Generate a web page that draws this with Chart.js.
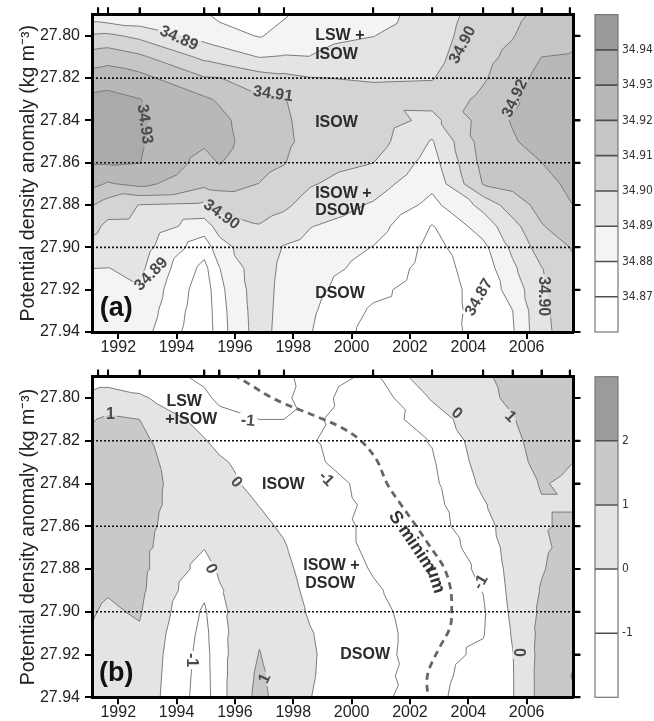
<!DOCTYPE html>
<html>
<head>
<meta charset="utf-8">
<script src="https://cdn.jsdelivr.net/npm/chart.js@4.4.1/dist/chart.umd.min.js"></script>
<style>
  html, body { margin: 0; padding: 0; background: #fff; }
  canvas { display: block; }
</style>
</head>
<body>
<canvas id="panelA" width="654" height="360"></canvas>
<canvas id="panelB" width="654" height="361"></canvas>
<script>
// grid columns (cruise dates, plus the plot edges) and density rows
const years = [1991.1, 1991.65, 1992.73, 1994.95, 1995.47, 1996.84, 1997.68, 1998.58, 2000.74, 2002.76, 2004.51, 2005.52, 2006.51, 2007.6];
const densities = [27.79, 27.80, 27.81, 27.82, 27.83, 27.84, 27.85, 27.86, 27.87, 27.88, 27.89, 27.90, 27.91, 27.92, 27.93, 27.94];
const cruiseDates = [1991.31, 1991.65, 1992.73, 1994.95, 1995.47, 1996.84, 1997.68, 2000.74, 2002.76, 2004.51, 2005.52, 2006.51, 2007.48];
const yearTicks = [1992, 1994, 1996, 1998, 2000, 2002, 2004, 2006];
const densityTicks = [27.80, 27.82, 27.84, 27.86, 27.88, 27.90, 27.92, 27.94];
const dividers = [27.82, 27.86, 27.90];

// (a) salinity, one array per column, top (27.79) to bottom (27.94)
const salinityLevels = [34.87, 34.88, 34.89, 34.90, 34.91, 34.92, 34.93, 34.94];
const salinity = [
  [34.884, 34.9013, 34.9144, 34.9252, 34.932, 34.935, 34.934, 34.931, 34.9228, 34.9105, 34.9032, 34.8964, 34.89, 34.886, 34.885, 34.885],
  [34.882, 34.902, 34.9161, 34.9258, 34.933, 34.936, 34.935, 34.931, 34.919, 34.9055, 34.8975, 34.8937, 34.8898, 34.885, 34.884, 34.884],
  [34.881, 34.8975, 34.9119, 34.9232, 34.9302, 34.9312, 34.9312, 34.9302, 34.9228, 34.8997, 34.8972, 34.8946, 34.8921, 34.8895, 34.887, 34.8845],
  [34.8812, 34.8866, 34.8976, 34.9107, 34.9215, 34.924, 34.9215, 34.9168, 34.9124, 34.8979, 34.8853, 34.8741, 34.867, 34.864, 34.863, 34.862],
  [34.8775, 34.8845, 34.8952, 34.9103, 34.9188, 34.9225, 34.9235, 34.9205, 34.9132, 34.9035, 34.894, 34.8861, 34.8797, 34.8775, 34.8765, 34.876],
  [34.875, 34.8793, 34.8897, 34.9043, 34.9115, 34.914, 34.9145, 34.913, 34.9098, 34.9044, 34.8995, 34.8975, 34.8965, 34.896, 34.8955, 34.895],
  [34.879, 34.8833, 34.8907, 34.9026, 34.9105, 34.9115, 34.912, 34.9105, 34.9061, 34.9018, 34.8958, 34.8893, 34.887, 34.886, 34.8855, 34.885],
  [34.8855, 34.8872, 34.8902, 34.9004, 34.904, 34.9065, 34.907, 34.9045, 34.9008, 34.8962, 34.8904, 34.8865, 34.8845, 34.883, 34.8815, 34.8805],
  [34.8862, 34.8898, 34.8945, 34.8991, 34.9035, 34.906, 34.9045, 34.9001, 34.8945, 34.889, 34.8843, 34.8797, 34.8765, 34.8725, 34.8685, 34.866],
  [34.8945, 34.8955, 34.897, 34.8995, 34.904, 34.8968, 34.8892, 34.8859, 34.8823, 34.8772, 34.8695, 34.867, 34.866, 34.865, 34.8645, 34.864],
  [34.9045, 34.906, 34.9075, 34.909, 34.912, 34.914, 34.9145, 34.913, 34.9105, 34.8929, 34.8845, 34.8775, 34.8745, 34.8735, 34.8735, 34.874],
  [34.9075, 34.9095, 34.9122, 34.9151, 34.918, 34.9208, 34.9189, 34.9158, 34.9126, 34.9053, 34.8965, 34.8922, 34.8881, 34.884, 34.8799, 34.879],
  [34.9125, 34.9155, 34.92, 34.9235, 34.926, 34.9265, 34.9245, 34.9199, 34.9165, 34.913, 34.9094, 34.9044, 34.8996, 34.8985, 34.898, 34.8975],
  [34.9165, 34.918, 34.9208, 34.924, 34.9265, 34.928, 34.9272, 34.925, 34.9225, 34.9201, 34.9154, 34.9107, 34.9085, 34.907, 34.906, 34.905]
];
const salinityColors = ['#ffffff', '#ffffff', '#f4f4f4', '#e4e4e4', '#d4d4d4', '#c6c6c6', '#b8b8b8', '#aaaaaa', '#9a9a9a'];

// (b) anomaly, same grid
const anomalyLevels = [-1, 0, 1, 2];
const anomaly = [
  [-0.45, 0.24, 0.95, 1.25, 1.4, 1.45, 1.45, 1.4, 1.35, 1.25, 1.15, 1.05, 0.95, 0.8, 0.7, 0.65],
  [-0.45, 0.45, 1.15, 1.35, 1.45, 1.5, 1.5, 1.45, 1.35, 1.2, 1.05, 0.9, 0.8, 0.7, 0.65, 0.6],
  [-0.55, 0.15, 1.0, 1.2, 1.3, 1.35, 1.35, 1.3, 1.25, 1.25, 1.2, 1.08, 0.9, 0.8, 0.75, 0.7],
  [-1.15, -0.85, -0.4, 0.07, 0.3, 0.4, 0.35, 0.2, 0.03, -0.35, -0.8, -1.15, -1.3, -1.4, -1.45, -1.5],
  [-1.35, -1.15, -0.75, -0.3, 0.15, 0.3, 0.4, 0.4, 0.3, 0.12, -0.08, -0.2, -0.27, -0.3, -0.3, -0.3],
  [-1.45, -1.25, -1.0, -0.75, -0.5, -0.27, -0.02, 0.2, 0.4, 0.55, 0.65, 0.75, 0.88, 1.04, 1.2, 1.3],
  [-1.3, -1.15, -1.0, -0.8, -0.65, -0.5, -0.3, -0.12, 0.08, 0.25, 0.38, 0.45, 0.5, 0.5, 0.5, 0.5],
  [-0.5, -0.65, -0.85, -0.95, -0.92, -0.8, -0.7, -0.6, -0.5, -0.4, -0.25, -0.1, 0.05, 0.1, 0.08, 0.02],
  [-1.2, -1.6, -1.55, -1.45, -1.25, -1.12, -1.1, -1.15, -1.15, -1.05, -0.92, -0.82, -0.78, -0.8, -0.85, -0.9],
  [0.8, 0.1, -0.5, -0.95, -1.1, -1.2, -1.3, -1.35, -1.4, -1.4, -1.38, -1.35, -1.3, -1.3, -1.25, -1.2],
  [0.85, 0.8, 0.7, 0.55, 0.4, 0.2, -0.1, -0.4, -0.7, -0.88, -0.98, -1.1, -1.05, -0.85, -0.65, -0.55],
  [1.3, 1.15, 0.95, 0.8, 0.7, 0.65, 0.6, 0.55, 0.5, 0.4, 0.3, 0.2, 0.08, -0.03, -0.05, -0.05],
  [1.5, 1.45, 1.4, 1.35, 1.25, 1.05, 0.95, 0.95, 0.9, 0.95, 1.05, 1.15, 1.25, 1.3, 1.35, 1.35],
  [1.6, 1.55, 1.45, 1.2, 1.0, 0.85, 0.95, 1.1, 1.2, 1.35, 1.45, 1.55, 1.7, 1.85, 2.05, 1.9]
];
const anomalyColors = ['#ffffff', '#ffffff', '#e4e4e4', '#c9c9c9', '#9b9b9b'];

// salinity minimum track in (b)
const sMinimum = [
  {x: 1995.95, y: 27.789}, {x: 1996.64, y: 27.7947}, {x: 1997.10, y: 27.7986}, {x: 1997.66, y: 27.8024},
  {x: 1998.24, y: 27.8056}, {x: 1998.92, y: 27.8093}, {x: 1999.61, y: 27.8135}, {x: 2000.29, y: 27.8196},
  {x: 2000.86, y: 27.8290}, {x: 2001.21, y: 27.8399}, {x: 2001.66, y: 27.8492}, {x: 2002.23, y: 27.8602},
  {x: 2002.69, y: 27.8695}, {x: 2003.15, y: 27.8789}, {x: 2003.38, y: 27.8883}, {x: 2003.43, y: 27.8976},
  {x: 2003.38, y: 27.9070}, {x: 2003.03, y: 27.9163}, {x: 2002.69, y: 27.9257}, {x: 2002.58, y: 27.9319},
  {x: 2002.63, y: 27.941}
];

// contour labels and water-mass names
const labelsA = [
  {x: 1994.09, y: 27.8008, text: '34.89', angle: 24},
  {x: 1997.31, y: 27.8271, text: '34.91', angle: 8},
  {x: 1992.94, y: 27.8417, text: '34.93', angle: 82},
  {x: 1995.56, y: 27.8842, text: '34.90', angle: 35},
  {x: 1993.11, y: 27.9124, text: '34.89', angle: -45},
  {x: 2003.78, y: 27.8042, text: '34.90', angle: -62},
  {x: 2005.57, y: 27.8294, text: '34.92', angle: -65},
  {x: 2004.34, y: 27.9234, text: '34.87', angle: -60},
  {x: 2006.60, y: 27.9231, text: '34.90', angle: 90}
];
const labelsB = [
  {x: 1991.73, y: 27.8071, text: '1', angle: 0},
  {x: 1996.45, y: 27.8103, text: '-1', angle: 5},
  {x: 1996.07, y: 27.8391, text: '0', angle: 50},
  {x: 1995.21, y: 27.8797, text: '0', angle: 65},
  {x: 1994.53, y: 27.9226, text: '-1', angle: 90},
  {x: 1997.00, y: 27.9310, text: '1', angle: -65},
  {x: 2003.63, y: 27.8068, text: '0', angle: 40},
  {x: 2005.46, y: 27.8084, text: '1', angle: 45},
  {x: 1999.15, y: 27.8375, text: '-1', angle: 45},
  {x: 2004.40, y: 27.8859, text: '-1', angle: -60},
  {x: 2005.75, y: 27.9190, text: '0', angle: 90}
];
const watersA = [
  {x: 1998.75, y: 27.8001, text: 'LSW +'},
  {x: 1998.75, y: 27.8088, text: 'ISOW'},
  {x: 1998.75, y: 27.8410, text: 'ISOW'},
  {x: 1998.75, y: 27.8746, text: 'ISOW +'},
  {x: 1998.75, y: 27.8826, text: 'DSOW'},
  {x: 1998.75, y: 27.9219, text: 'DSOW'}
];
const watersB = [
  {x: 1993.65, y: 27.8017, text: 'LSW'},
  {x: 1993.61, y: 27.8103, text: '+ISOW'},
  {x: 1996.93, y: 27.8407, text: 'ISOW'},
  {x: 1998.34, y: 27.8786, text: 'ISOW +'},
  {x: 1998.41, y: 27.8870, text: 'DSOW'},
  {x: 1999.61, y: 27.9200, text: 'DSOW'}
];

const FONT = '"Liberation Sans", Arial, Helvetica, sans-serif';
const NARROW = '"Liberation Sans Narrow", "DejaVu Sans Condensed", "Liberation Sans", sans-serif';

// part of a triangle where value >= L
function clipAbove(tri, L) {
  const out = [];
  for (let i = 0; i < 3; i++) {
    const a = tri[i], b = tri[(i + 1) % 3];
    const ina = a[2] >= L, inb = b[2] >= L;
    if (ina) out.push(a);
    if (ina !== inb) {
      const t = (L - a[2]) / (b[2] - a[2]);
      out.push([a[0] + t * (b[0] - a[0]), a[1] + t * (b[1] - a[1]), L]);
    }
  }
  return out;
}

function crossing(tri, L) {
  const pts = [];
  for (let i = 0; i < 3; i++) {
    const a = tri[i], b = tri[(i + 1) % 3];
    if ((a[2] >= L) !== (b[2] >= L)) {
      const t = (L - a[2]) / (b[2] - a[2]);
      pts.push([a[0] + t * (b[0] - a[0]), a[1] + t * (b[1] - a[1])]);
    }
  }
  return pts;
}

function makeTriangles(px, py, vals) {
  const tris = [];
  for (let c = 0; c < px.length - 1; c++) {
    for (let r = 0; r < py.length - 1; r++) {
      const p = (cc, rr) => [px[cc], py[rr], vals[cc][rr]];
      const a = p(c, r), b = p(c + 1, r), d = p(c, r + 1), e = p(c + 1, r + 1);
      tris.push([a, b, e], [a, e, d]);
    }
  }
  return tris;
}

function labelBox(ctx, sx, sy, l) {
  const w = ctx.measureText(l.text).width + 4, h = 13;
  const cx = sx.getPixelForValue(l.x), cy = sy.getPixelForValue(l.y);
  const t = l.angle * Math.PI / 180, c = Math.cos(t), s = Math.sin(t);
  const pt = (u, v) => [cx + u * c - v * s, cy + u * s + v * c];
  return [pt(-w / 2, -h / 2), pt(w / 2, -h / 2), pt(w / 2, h / 2), pt(-w / 2, h / 2)];
}

function fieldPlugin(cfg) {
  return {
    id: 'field' + cfg.tag,
    beforeDatasetsDraw(chart) {
      const {ctx, chartArea: a, scales} = chart;
      const sx = scales.x, sy = scales.y;
      const px = years.map(v => sx.getPixelForValue(v));
      const py = densities.map(v => sy.getPixelForValue(v));
      const tris = makeTriangles(px, py, cfg.values);
      ctx.save();
      ctx.beginPath();
      ctx.rect(a.left, a.top, a.width, a.height);
      ctx.clip();
      ctx.fillStyle = cfg.colors[0];
      ctx.fillRect(a.left, a.top, a.width, a.height);
      cfg.levels.forEach((L, k) => {
        ctx.beginPath();
        tris.forEach(t => {
          const poly = clipAbove(t, L);
          if (poly.length < 3) return;
          ctx.moveTo(poly[0][0], poly[0][1]);
          for (let i = 1; i < poly.length; i++) ctx.lineTo(poly[i][0], poly[i][1]);
          ctx.closePath();
        });
        ctx.fillStyle = cfg.colors[k + 1];
        ctx.fill();
      });
      // leave gaps in the contour lines under the labels
      ctx.font = 'bold 16px ' + FONT;
      ctx.beginPath();
      ctx.rect(a.left, a.top, a.width, a.height);
      cfg.labels.forEach(l => {
        const b = labelBox(ctx, sx, sy, l);
        ctx.moveTo(b[0][0], b[0][1]);
        b.slice(1).forEach(p => ctx.lineTo(p[0], p[1]));
        ctx.closePath();
      });
      ctx.clip('evenodd');
      ctx.beginPath();
      cfg.levels.forEach(L => tris.forEach(t => {
        const s = crossing(t, L);
        if (s.length === 2) { ctx.moveTo(s[0][0], s[0][1]); ctx.lineTo(s[1][0], s[1][1]); }
      }));
      ctx.strokeStyle = '#7b7b7b';
      ctx.lineWidth = 1;
      ctx.stroke();
      ctx.restore();
    },
    afterDatasetsDraw(chart) {
      const {ctx, scales} = chart;
      const sx = scales.x, sy = scales.y;
      ctx.save();
      ctx.textBaseline = 'middle';
      ctx.font = 'bold 16px ' + FONT;
      ctx.fillStyle = '#4a4a4a';
      ctx.textAlign = 'center';
      cfg.labels.forEach(l => {
        ctx.save();
        ctx.translate(sx.getPixelForValue(l.x), sy.getPixelForValue(l.y));
        ctx.rotate(l.angle * Math.PI / 180);
        ctx.fillText(l.text, 0, 1);
        ctx.restore();
      });
      ctx.fillStyle = '#2b2b2b';
      ctx.textAlign = 'left';
      cfg.waters.forEach(w => ctx.fillText(w.text, sx.getPixelForValue(w.x), sy.getPixelForValue(w.y)));
      ctx.font = 'bold 27px ' + FONT;
      ctx.fillStyle = '#111';
      ctx.textAlign = 'center';
      ctx.fillText(cfg.tag, sx.getPixelForValue(1991.93), sy.getPixelForValue(27.929));
      if (cfg.track) {
        const pts = cfg.track.map(p => [sx.getPixelForValue(p.x), sy.getPixelForValue(p.y)]);
        const target = sy.getPixelForValue(27.8505);
        const segs = [];
        let total = 0, start = 0;
        for (let i = 0; i < pts.length - 1; i++) {
          const dx = pts[i + 1][0] - pts[i][0], dy = pts[i + 1][1] - pts[i][1];
          const len = Math.hypot(dx, dy);
          if (!start && pts[i + 1][1] >= target) start = total + len * (target - pts[i][1]) / dy;
          segs.push({p: pts[i], dx: dx / len, dy: dy / len, s0: total, len});
          total += len;
        }
        const at = s => {
          const g = segs.find(q => s <= q.s0 + q.len) || segs[segs.length - 1];
          const u = s - g.s0;
          return {x: g.p[0] + g.dx * u, y: g.p[1] + g.dy * u, dx: g.dx, dy: g.dy};
        };
        ctx.font = 'bold 18px ' + FONT;
        ctx.fillStyle = '#333';
        let s = start;
        for (const ch of 'S minimum') {
          const w = ctx.measureText(ch).width;
          const q = at(s + w / 2);
          ctx.save();
          ctx.translate(q.x - q.dy * 12, q.y + q.dx * 12);
          ctx.rotate(Math.atan2(q.dy, q.dx));
          ctx.fillText(ch, 0, 0);
          ctx.restore();
          s += w;
        }
      }
      ctx.restore();
    },
    afterDraw(chart) {
      const {ctx, chartArea: a, scales} = chart;
      const sx = scales.x, sy = scales.y;
      ctx.save();
      // outward tick marks on the top (cruise dates) and right edges
      ctx.strokeStyle = '#000';
      ctx.lineWidth = 2;
      ctx.beginPath();
      cruiseDates.forEach(v => {
        const x = sx.getPixelForValue(v);
        ctx.moveTo(x, a.top - 7);
        ctx.lineTo(x, a.top);
      });
      densityTicks.forEach(v => {
        const y = sy.getPixelForValue(v);
        ctx.moveTo(a.right, y);
        ctx.lineTo(a.right + 7, y);
      });
      ctx.stroke();
      // colour bar
      const x0 = 595, w = 23, n = cfg.colors.length, h = a.height / n;
      for (let i = 0; i < n; i++) {
        ctx.fillStyle = cfg.colors[n - 1 - i];
        ctx.fillRect(x0, a.top + i * h, w, h);
      }
      ctx.strokeStyle = '#505050';
      ctx.lineWidth = 1.6;
      ctx.beginPath();
      for (let i = 1; i < n; i++) {
        ctx.moveTo(x0, a.top + i * h);
        ctx.lineTo(x0 + w, a.top + i * h);
      }
      ctx.stroke();
      ctx.strokeStyle = '#777';
      ctx.lineWidth = 1.2;
      ctx.strokeRect(x0, a.top, w, a.height);
      ctx.font = '12px ' + NARROW;
      ctx.fillStyle = '#333';
      ctx.textAlign = 'left';
      ctx.textBaseline = 'middle';
      cfg.levels.forEach((L, k) => {
        const y = a.top + (n - 1 - k) * h;
        ctx.fillText(cfg.format(L), x0 + w + 4, y);
      });
      ctx.restore();
    }
  };
}

function axisScales(p) {
  const ticks = {font: {family: FONT, size: 16}, color: '#222'};
  const marks = {drawOnChartArea: false, drawTicks: true, tickLength: 7, color: '#000', lineWidth: 2};
  const border = {display: true, color: '#000', width: 3, z: 1};
  return {
    x: {
      type: 'linear', position: 'bottom', min: 1991.1, max: 2007.6,
      afterBuildTicks: s => { s.ticks = yearTicks.map(v => ({value: v})); },
      afterFit: s => { s.height = p.bottomH; },
      ticks: Object.assign({padding: -1, autoSkip: false, maxRotation: 0, callback: v => String(v)}, ticks),
      grid: marks, border
    },
    xTop: {
      type: 'linear', position: 'top', min: 1991.1, max: 2007.6,
      afterBuildTicks: s => { s.ticks = cruiseDates.map(v => ({value: v})); },
      afterFit: s => { s.height = 8; },
      ticks: {display: false}, grid: marks, border
    },
    y: {
      type: 'linear', position: 'left', reverse: true, min: 27.79, max: 27.94,
      afterBuildTicks: s => { s.ticks = densityTicks.map(v => ({value: v})); },
      afterFit: s => { s.width = 92; },
      ticks: Object.assign({padding: 5, autoSkip: false, callback: v => v.toFixed(2)}, ticks),
      title: {display: true, text: 'Potential density anomaly (kg m\u207B\u00B3)', color: '#222',
              font: {family: FONT, size: 19.5}, padding: {top: 17, bottom: 0}},
      grid: marks, border
    },
    yRight: {
      type: 'linear', position: 'right', reverse: true, min: 27.79, max: 27.94,
      afterBuildTicks: s => { s.ticks = densityTicks.map(v => ({value: v})); },
      afterFit: s => { s.width = 10; },
      ticks: {display: false}, grid: marks, border
    }
  };
}

function dividerSets() {
  return dividers.map(d => ({
    data: [{x: 1991.1, y: d}, {x: 2007.6, y: d}],
    showLine: true, borderColor: '#111', borderWidth: 1.6, borderDash: [2, 2],
    pointRadius: 0
  }));
}

function makePanel(id, p) {
  const datasets = dividerSets();
  if (p.track) {
    datasets.push({
      data: p.track, showLine: true, borderColor: '#666', borderWidth: 2.8,
      borderDash: [7, 5], tension: 0.35, pointRadius: 0
    });
  }
  return new Chart(document.getElementById(id), {
    type: 'scatter',
    data: {datasets},
    options: {
      responsive: false, animation: false, devicePixelRatio: 1, events: [],
      layout: {padding: {left: 0, right: 70.7, top: p.padTop, bottom: 0}},
      plugins: {legend: {display: false}, tooltip: {enabled: false}},
      scales: axisScales(p)
    },
    plugins: [fieldPlugin(p)]
  });
}

makePanel('panelA', {
  tag: '(a)', values: salinity, levels: salinityLevels, colors: salinityColors,
  labels: labelsA, waters: watersA, padTop: 5, bottomH: 28,
  format: v => v.toFixed(2)
});
makePanel('panelB', {
  tag: '(b)', values: anomaly, levels: anomalyLevels, colors: anomalyColors,
  labels: labelsB, waters: watersB, padTop: 8.7, bottomH: 23.7, track: sMinimum,
  format: v => String(v)
});
</script>
</body>
</html>
